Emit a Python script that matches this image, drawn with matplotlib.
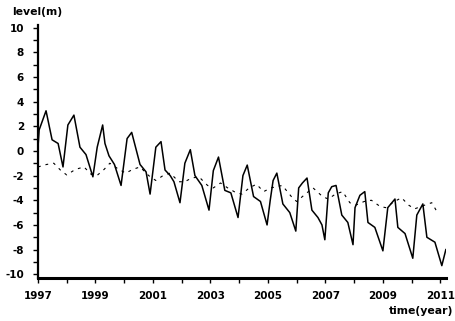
import matplotlib
matplotlib.use('Agg')
import matplotlib.pyplot as plt

plt.rcParams['font.family'] = ['DejaVu Sans']
plt.rcParams['font.weight'] = 'bold'

obs_t = [1997.0, 1997.04, 1997.28, 1997.49, 1997.7, 1997.87,
         1998.04, 1998.25, 1998.46, 1998.67, 1998.91,
         1999.06, 1999.25, 1999.33, 1999.47, 1999.66, 1999.89,
         2000.1, 2000.26, 2000.55, 2000.76, 2000.9,
         2001.1, 2001.28, 2001.42, 2001.6, 2001.73, 2001.94,
         2002.11, 2002.3, 2002.46, 2002.7, 2002.95,
         2003.1, 2003.28, 2003.5, 2003.71, 2003.96,
         2004.13, 2004.28, 2004.5, 2004.74, 2004.97,
         2005.08, 2005.18, 2005.31, 2005.52, 2005.76, 2005.97,
         2006.07, 2006.2, 2006.36, 2006.53, 2006.74, 2006.88, 2006.98,
         2007.1, 2007.22, 2007.37, 2007.57, 2007.78, 2007.96,
         2008.03, 2008.2, 2008.37, 2008.48, 2008.72, 2009.0,
         2009.17, 2009.42, 2009.52, 2009.77, 2010.04,
         2010.18, 2010.39, 2010.53, 2010.81, 2011.05, 2011.19]
obs_v = [0.3, 1.7, 3.25, 0.9, 0.6, -1.3,
         2.1, 2.9, 0.3, -0.3, -2.1,
         0.3, 2.1, 0.6, -0.4, -1.1, -2.8,
         1.0, 1.5, -1.1, -1.7, -3.5,
         0.3, 0.75, -1.55, -2.0, -2.5, -4.2,
         -1.0, 0.1, -2.0, -2.8, -4.8,
         -1.6, -0.5, -3.2, -3.4, -5.4,
         -2.0, -1.15, -3.7, -4.1, -6.0,
         -4.0, -2.4, -1.8, -4.3, -5.0, -6.5,
         -3.0, -2.6, -2.2, -4.8, -5.4, -6.0, -7.2,
         -3.4, -2.9, -2.8, -5.2, -5.8, -7.6,
         -4.6, -3.6, -3.3, -5.8, -6.2, -8.1,
         -4.6, -3.9, -6.2, -6.7, -8.7,
         -5.2, -4.3, -7.0, -7.4, -9.3, -8.0]

# simulated level (dashed)
sim_t = [1997.0, 1997.3, 1997.55, 1997.8, 1998.0, 1998.3, 1998.6, 1998.85,
         1999.05, 1999.3, 1999.5, 1999.75, 2000.05, 2000.3, 2000.55, 2000.85,
         2001.1, 2001.35, 2001.6, 2001.9, 2002.1, 2002.35, 2002.6, 2002.9,
         2003.1, 2003.35, 2003.6, 2003.9, 2004.1, 2004.35, 2004.6, 2004.85,
         2005.1, 2005.5, 2005.85, 2006.0, 2006.3, 2006.57, 2006.9,
         2007.1, 2007.35, 2007.6, 2007.85, 2008.05, 2008.35, 2008.6, 2008.9,
         2009.1, 2009.4, 2009.65, 2009.9, 2010.1, 2010.45, 2010.7, 2010.9]
sim_v = [-1.3, -1.1, -1.0, -1.6, -1.95, -1.5, -1.3, -1.9,
         -2.0, -1.5, -1.0, -1.4, -1.8, -1.5, -1.3, -2.0,
         -2.4, -2.0, -1.8, -2.5, -2.5, -2.2, -2.1, -2.8,
         -3.0, -2.6, -3.0, -3.4, -3.5, -3.0, -2.7, -3.3,
         -3.0, -2.8, -3.8, -4.1, -3.5, -3.0, -3.7,
         -3.9, -3.5, -3.3, -4.2, -4.4, -4.1, -4.0, -4.5,
         -4.6, -4.1, -3.8, -4.4, -4.7, -4.4, -4.2, -5.0]

year_ticks = list(range(1997, 2012))
year_labels = [str(y) if y % 2 == 1 else '' for y in year_ticks]
level_ticks = list(range(-10, 11))
level_labels = [str(v) if v % 2 == 0 else '' for v in level_ticks]

fig = plt.figure(figsize=(4.55, 3.21), dpi=100)
ax = fig.add_axes([0.0835, 0.134, 0.897, 0.788])

ax.plot(sim_t, sim_v, color='black', linewidth=0.8, linestyle=(0, (2.5, 4.5)))
ax.plot(obs_t, obs_v, color='black', linewidth=1.1)

ax.set_xlim(1997, 2011.2)
ax.set_ylim(-10.3, 10.2)
ax.set_xticks(year_ticks)
ax.set_xticklabels(year_labels)
ax.set_yticks(level_ticks)
ax.set_yticklabels(level_labels)

for s in ['top', 'right']:
    ax.spines[s].set_visible(False)
ax.spines['left'].set_linewidth(1.6)
ax.spines['bottom'].set_linewidth(2.2)
ax.tick_params(axis='both', direction='out', length=3.5, width=1, labelsize=7.5)
ax.tick_params(axis='y', pad=6.5)
ax.tick_params(axis='x', pad=6)

fig.text(0.026, 0.963, 'level(m)', fontsize=7.8, fontweight='bold', va='center', ha='left')
fig.text(0.996, 0.031, 'time(year)', fontsize=7.8, fontweight='bold', va='center', ha='right')

plt.savefig('out.png', dpi=100)
